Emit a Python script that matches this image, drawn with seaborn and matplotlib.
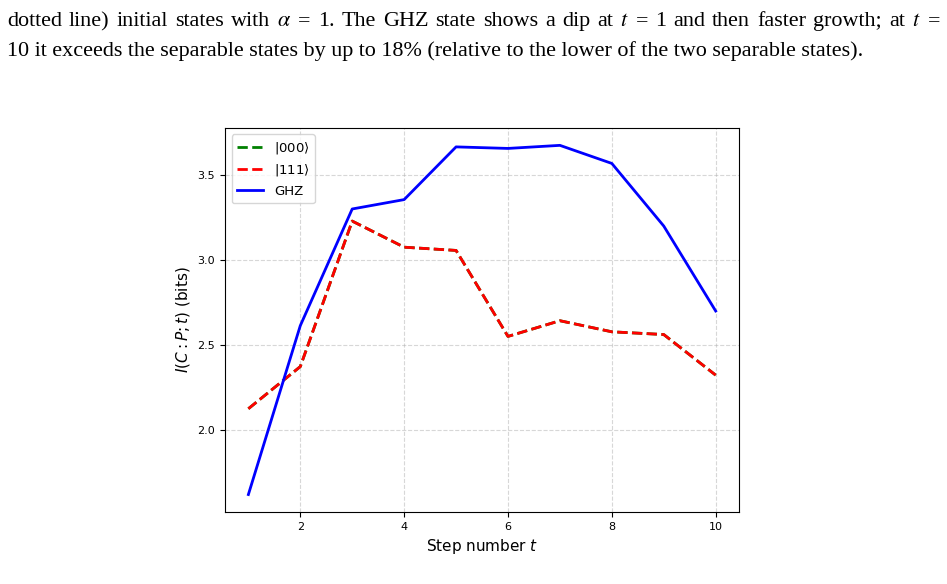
import pandas as pd
import seaborn as sns
import matplotlib.pyplot as plt

# Values
steps = [1, 2, 3, 4, 5, 6, 7, 8, 9, 10]
mi_000 = [2.127, 2.374, 3.227, 3.074, 3.055, 2.551, 2.643, 2.578, 2.562, 2.324]
mi_111 = [2.127, 2.374, 3.227, 3.074, 3.055, 2.551, 2.643, 2.578, 2.562, 2.324]
mi_ghz = [1.624, 2.614, 3.298, 3.353, 3.662, 3.653, 3.671, 3.565, 3.198, 2.700]

caption_1 = (r"dotted line) initial states with $\alpha$ = 1. The GHZ state shows a dip at $t$ = 1 "
             r"and then faster growth; at $t$ =")
caption_2 = ("10 it exceeds the separable states by up to 18% (relative to the lower of the two "
             "separable states).")

df = pd.DataFrame({'t': steps, 'm000': mi_000, 'm111': mi_111, 'ghz': mi_ghz})

fig = plt.figure(figsize=(9.47, 5.84), dpi=100)
ax = fig.add_axes([0.2376, 0.1233, 0.5428, 0.6577])

sns.lineplot(data=df, x='t', y='m000', ax=ax, color='green', linestyle='--', linewidth=2,
             label=r'$|000\rangle$')
sns.lineplot(data=df, x='t', y='m111', ax=ax, color='red', linestyle='--', linewidth=2,
             label=r'$|111\rangle$')
sns.lineplot(data=df, x='t', y='ghz', ax=ax, color='blue', linewidth=2, label='GHZ')

ax.set_xticks([2, 4, 6, 8, 10])
ax.set_yticks([2.0, 2.5, 3.0, 3.5])
ax.tick_params(labelsize=8)
ax.grid(True, linestyle='--', alpha=0.5)
ax.set_xlabel('Step number $t$', fontsize=11)
ax.set_ylabel('$I(C:P;t)$ (bits)', fontsize=11)
ax.legend(loc='upper left', fontsize=9.5)

# caption text above the chart; first line justified like the page
cap_kw = dict(fontsize=15.9, family='Liberation Serif', math_fontfamily='stix', va='baseline')
fig.canvas.draw()
renderer = fig.canvas.get_renderer()
words = caption_1.split(' ')
left, right = 7, 940
widths = []
texts = []
for w in words:
    t = fig.text(0, 1 - 26 / 584, w, ha='left', **cap_kw)
    widths.append(t.get_window_extent(renderer).width)
    texts.append(t)
gap = (right - left - sum(widths)) / (len(words) - 1)
x = left
for t, w in zip(texts, widths):
    t.set_x(x / fig.bbox.width)
    x += w + gap

fig.text(7 / fig.bbox.width, 1 - 56 / 584, caption_2, ha='left', **cap_kw)

fig.savefig('out.png', dpi=100)
